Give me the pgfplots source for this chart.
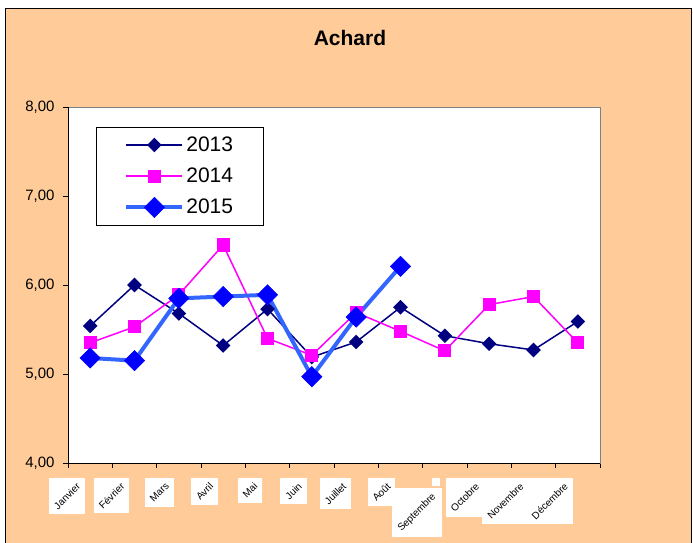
\documentclass[border=0pt]{standalone}
\usepackage{fontspec}
\setmainfont{Liberation Sans}
\usepackage{pgfplots}
\pgfplotsset{compat=1.18}
\definecolor{bg}{HTML}{FFCC99}
\definecolor{navyc}{HTML}{000080}
\definecolor{mag}{HTML}{FF00FF}
\definecolor{blueline}{HTML}{3366FF}
\definecolor{bluemark}{HTML}{0000FF}
\begin{document}
\begin{tikzpicture}[x=1pt,y=1pt]
\useasboundingbox (0,0) rectangle (693,542);
\fill[white] (0,0) rectangle (693,542);
\draw[fill=bg, line width=1pt] (5,-5) rectangle (691,533);
\node[font=\bfseries\fontsize{21}{24}\selectfont] at (350,504) {Achard};
\begin{axis}[
  at={(68pt,79pt)}, anchor=south west,
  scale only axis, width=532pt, height=356pt,
  xmin=0.5, xmax=12.5, ymin=4, ymax=8,
  axis background/.style={fill=white},
  axis line style={draw=gray, line width=1pt},
  tick align=outside, tick pos=left,
  major tick length=5pt, minor tick length=5pt,
  xtick={1,...,12},
  minor xtick={0.5,1.5,...,12.5},
  major x tick style={draw=none},
  minor x tick style={black, line width=0.8pt},
  ytick={4,5,6,7,8},
  y tick style={black, line width=0.8pt},
  yticklabel style={font=\fontsize{15}{17}\selectfont, xshift=-5pt, /pgf/number format/.cd, fixed, fixed zerofill, precision=2, use comma, assume math mode=true},
  xticklabels={{\rotatebox{45}{Janvier}},{\rotatebox{45}{Février}},{\rotatebox{45}{Mars}},{\rotatebox{45}{Avril}},{\rotatebox{45}{Mai}},{\rotatebox{45}{Juin}},{\rotatebox{45}{Juillet}},{\rotatebox{45}{Août}},{},{\rotatebox{45}{Octobre}},{\rotatebox{45}{Novembre}},{\rotatebox{45}{Décembre}}},
  xticklabel style={font=\fontsize{10}{12}\selectfont, fill=white, inner sep=4pt, anchor=north east, xshift=-5pt, yshift=-10pt},
  extra x ticks={9},
  extra x tick labels={{\rotatebox{45}{Septembre}}},
  extra x tick style={major x tick style={draw=none}, xticklabel style={yshift=-10pt, xshift=2pt}},
  legend image code/.code={\draw[mark repeat=2,mark phase=2,#1] plot coordinates {(0pt,0pt) (28pt,0pt) (56pt,0pt)};},
  legend style={at={(0.0526,0.9438)}, anchor=north west, draw=black, line width=0.8pt, fill=white,
    inner xsep=28pt, inner ysep=7.5pt, row sep=11pt, font=\fontsize{21}{24}\selectfont, nodes={inner sep=2pt}},
  legend cell align=left,
]
\addplot[navyc, line width=1.5pt, mark=square*, mark size=4.4pt, mark options={rotate=45, solid, fill=navyc}]
  coordinates {(1,5.54) (2,6.00) (3,5.68) (4,5.32) (5,5.73) (6,5.19) (7,5.36) (8,5.75) (9,5.43) (10,5.34) (11,5.27) (12,5.59)};
\addlegendentry{2013}
\addplot[mag, line width=1.5pt, mark=square*, mark size=5.8pt, mark options={solid, fill=mag}]
  coordinates {(1,5.35) (2,5.53) (3,5.89) (4,6.45) (5,5.40) (6,5.21) (7,5.69) (8,5.48) (9,5.26) (10,5.78) (11,5.87) (12,5.35)};
\addlegendentry{2014}
\addplot[blueline, line width=4pt, mark=square*, mark size=7.2pt, mark options={rotate=45, solid, line width=0.5pt, draw=bluemark, fill=bluemark}]
  coordinates {(1,5.18) (2,5.15) (3,5.85) (4,5.87) (5,5.89) (6,4.97) (7,5.64) (8,6.21)};
\addlegendentry{2015}
\draw[black, line width=1pt] (rel axis cs:0,1) -- (rel axis cs:0,0) -- (rel axis cs:1,0);
\end{axis}
\end{tikzpicture}
\end{document}
